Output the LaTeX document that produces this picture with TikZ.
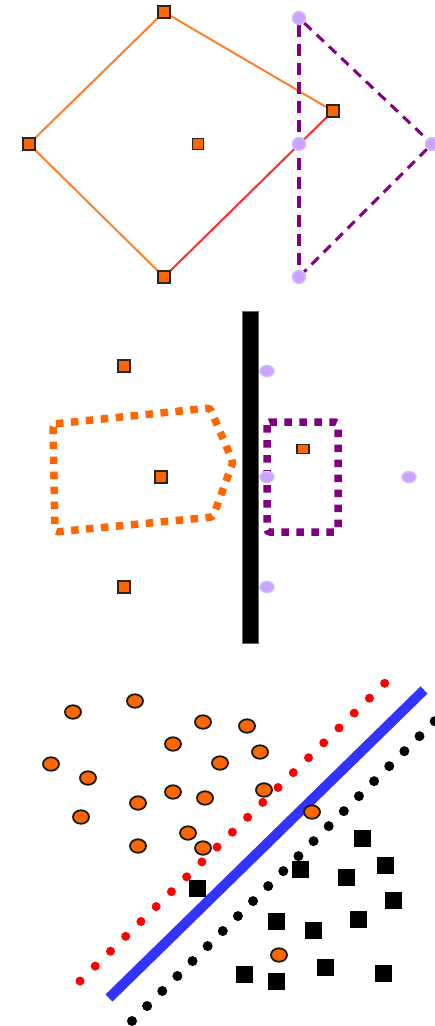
\documentclass[tikz,border=0pt]{standalone}
\usetikzlibrary{backgrounds,shapes.geometric}
\definecolor{sqorange}{HTML}{FF6600}
\definecolor{lnorange}{HTML}{FF7F2A}
\definecolor{lnred}{HTML}{FF2A2A}
\definecolor{lavfill}{HTML}{C9A3FF}
\definecolor{lavdraw}{HTML}{D6BAFF}
\definecolor{purp}{HTML}{800080}
\definecolor{blu}{HTML}{3333FF}
\tikzset{
  osq/.style={rectangle, draw=black!85, line width=1.2pt, fill=sqorange, minimum size=12pt, inner sep=0pt},
  lavc/.style={circle, draw=lavdraw, line width=1.5pt, fill=lavfill, minimum size=13pt, inner sep=0pt},
  lave/.style={ellipse, draw=lavdraw, line width=1.5pt, fill=lavfill, minimum width=14pt, minimum height=11pt, inner sep=0pt},
  odot/.style={ellipse, draw=black!90, line width=1.8pt, fill=sqorange, minimum width=16pt, minimum height=13.5pt, inner sep=0pt},
  bsq/.style={rectangle, fill=black, minimum size=17pt, inner sep=0pt},
  edgeorange/.style={draw=lnorange, line width=2pt},
  edgered/.style={draw=lnred, line width=2pt},
  purpdashv/.style={draw=purp, line width=4pt, dash pattern=on 12pt off 7pt},
  purpdashd/.style={draw=purp, line width=3pt, dash pattern=on 10pt off 7pt},
  squaredots/.style={line width=7.5pt, dash pattern=on 7.5pt off 7.5pt, rounded corners=3pt},
  rounddots/.style={line cap=round, dash pattern=on 0pt off 21.3pt},
}
\begin{document}
\begin{tikzpicture}[x=1pt,y=-1pt]
\useasboundingbox (0,0) rectangle (434,1026);
% ---------- top ----------
\node[osq] (t1) at (164,12) {};
\node[osq] (t2) at (29,144) {};
\node[osq] (t3) at (333,111) {};
\node[osq] (t4) at (164,277) {};
\node[osq, minimum size=11pt] (t5) at (198,144) {};
\node[lavc] (p1) at (299,18) {};
\node[lavc] (p2) at (299,144) {};
\node[lavc] (p3) at (299,277) {};
\node[lavc] (p4) at (432,144) {};
\begin{pgfonlayer}{background}
\draw[edgeorange] (t1.center) -- (t3.center);
\draw[edgeorange] (t1.center) -- (t2.center);
\draw[edgeorange] (t2.center) -- (t4.center);
\draw[edgered] (t4.center) -- (t3.center);
\draw[purpdashv] (p1) -- (p3);
\draw[purpdashd] (p1) -- (p4);
\draw[purpdashd] (p4) -- (p3);
\end{pgfonlayer}
% ---------- middle ----------
\node[rectangle, fill=black, draw=black!60, line width=0.6pt, minimum width=16pt, minimum height=332pt, inner sep=0pt] (bar) at (250,477) {};
\draw[squaredots, draw=sqorange] (53,424) -- (210,408) -- (233,462) -- (213,517) -- (55,532) -- cycle;
\draw[squaredots, draw=purp] (267,422) rectangle (338,532);
\node[osq] (m1) at (124,366) {};
\node[osq] (m2) at (161,477) {};
\node[osq] (m3) at (124,587) {};
\node[osq, minimum width=12pt, minimum height=9pt] (m4) at (303,449) {};
\node[lave] (q1) at (267,371) {};
\node[lave] (q2) at (267,477) {};
\node[lave] (q3) at (267,587) {};
\node[lave] (q4) at (409,477) {};
% ---------- bottom ----------
\coordinate (r1) at (80,981);
\coordinate (r2) at (386,682);
\coordinate (k1) at (132,1021);
\coordinate (k2) at (453,703);
\coordinate (b1) at (109,998);
\coordinate (b2) at (424,690);
\draw[rounddots, draw=red, line width=9pt] (r1) -- (r2);
\draw[rounddots, draw=black, line width=10pt] (k1) -- (k2);
\draw[draw=blu, line width=10pt] (b1) -- (b2);
\foreach \x/\y [count=\i] in {362/838,385/865,300/869,346/877,197/888,393/900,276/921,313/930,358/919,244/974,276/981,325/967,383/973}
  \node[bsq] (s\i) at (\x,\y) {};
\foreach \x/\y [count=\i] in {73/712,135/701,203/722,247/726,173/744,260/752,51/764,220/763,88/778,173/792,264/790,205/798,138/803,81/817,312/812,188/833,138/846,203/848,279/955}
  \node[odot] (o\i) at (\x,\y) {};
\end{tikzpicture}
\end{document}
